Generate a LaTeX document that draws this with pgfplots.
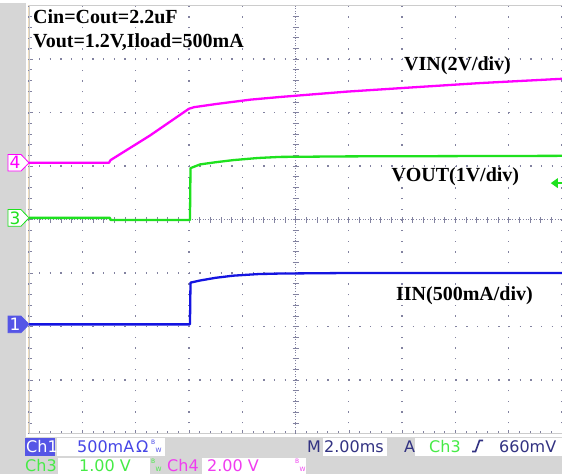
\documentclass[border=0pt]{standalone}
\usepackage{pgfplots}
\pgfplotsset{compat=1.18}
\usepackage{fontspec}
\setmainfont{Liberation Serif}
\newfontfamily\scopefont{DejaVu Sans}

\definecolor{vin}{RGB}{255,0,255}
\definecolor{vout}{RGB}{30,225,30}
\definecolor{iin}{RGB}{20,20,225}
\definecolor{dots}{RGB}{130,130,160}
\definecolor{band}{RGB}{214,214,214}
\definecolor{cream}{RGB}{240,222,190}
\definecolor{navy}{RGB}{50,50,130}
\definecolor{chblue}{RGB}{85,85,230}
\definecolor{txtblue}{RGB}{70,70,230}
\definecolor{txtgreen}{RGB}{70,235,70}
\definecolor{txtmag}{RGB}{240,60,240}

% channel ground marker: y level, fill, outline, text colour, label
\newcommand\chmark[5]{%
  \filldraw[fill=#2, draw=#3, line width=0.8pt]
    (axis cs:0,#1) -- ++(-8pt,8.3pt) -- ++(-13pt,0pt) -- ++(0pt,-16.6pt) -- ++(13pt,0pt) -- cycle;
  \node[text=#4, inner sep=0pt, font=\scopefont\fontsize{17}{17}\selectfont]
    at ([xshift=-14pt]axis cs:0,#1) {#5};
}
% tiny stacked "B" "W" flag: x, baseline y, colour
\newcommand\bw[3]{%
  \node[text=#3, inner sep=0pt, anchor=base west, font=\scopefont\fontsize{6}{6}\selectfont] at (#1,#2+7.5) {B};
  \node[text=#3, inner sep=0pt, anchor=base west, font=\scopefont\fontsize{6}{6}\selectfont] at (#1+4.5,#2) {W};
}

\begin{document}
\begin{tikzpicture}[x=1pt,y=1pt]
\useasboundingbox (-29,-40.5) rectangle (533,433.5);
\fill[white] (-29,-40.5) rectangle (533,433.5);
\fill[band] (-29,-40.5) rectangle (-3,430.5);
\fill[band] (-29,-40.5) rectangle (533,-3);
\draw[cream, line width=0.8pt] (-1,0) -- (-1,428);

% status bar boxes
\fill[chblue] (-4,-4.5) rectangle (26,-22.5);
\fill[white] (28,-4.5) rectangle (136,-22.5);
\fill[white] (294,-4.5) rectangle (358,-22.5);
\fill[white] (386,-4.5) rectangle (533,-22.5);
\fill[white] (29,-24) rectangle (121,-40.5);
\fill[white] (173,-24) rectangle (277,-40.5);

\begin{scope}[every node/.style={inner sep=0pt, anchor=base west, font=\scopefont\fontsize{16}{16}\selectfont}]
  \node[text=white] at (-3,-18.5) {Ch1};
  \node[text=txtblue] at (48,-18.5) {500mA};
  \node[text=txtblue] at (107,-18.5) {Ω};
  \node[text=navy] at (278,-18.5) {M};
  \node[text=navy] at (295,-18.5) {2.00ms};
  \node[text=navy] at (375,-18.5) {A};
  \node[text=txtgreen] at (400,-18.5) {Ch3};
  \node[text=navy] at (470,-18.5) {660mV};
  \node[text=txtgreen] at (-4,-37.5) {Ch3};
  \node[text=txtgreen] at (50,-37.5) {1.00 V};
  \node[text=txtmag] at (138,-37.5) {Ch4};
  \node[text=txtmag] at (178,-37.5) {2.00 V};
\end{scope}
\bw{122}{-18.5}{txtblue}
\bw{122}{-37.5}{txtgreen}
\bw{266}{-37.5}{txtmag}
% rising edge trigger symbol
\draw[navy, line width=1.6pt] (443,-18) -- (446.5,-18) -- (450.5,-7) -- (454,-7);

\begin{axis}[
  at={(0,0)}, anchor=south west,
  scale only axis, width=533pt, height=428pt,
  xmin=0, xmax=10, ymin=0, ymax=8,
  xtick={0,...,10}, ytick={0,...,8},
  minor x tick num=4, minor y tick num=4,
  xticklabels={}, yticklabels={},
  tick pos=left, tick align=inside,
  major tick length=4pt, minor tick length=3pt,
  every tick/.style={dots, line width=0.5pt},
  grid=major,
  major grid style={dots, line width=1.3pt, dash pattern=on 1.3pt off 9.38pt, dash phase=0.65pt},
  axis line style={gray!40, line width=0.6pt},
  clip=false,
]
% centre cross with fine ticks
\draw[dots, line width=0.8pt, dash pattern=on 1pt off 1.67pt] (axis cs:0,4) -- (axis cs:10,4);
\draw[dots, line width=0.8pt, dash pattern=on 1pt off 1.67pt] (axis cs:5,0) -- (axis cs:5,8);
\pgfplotsinvokeforeach{0.2,0.4,...,9.8}{
  \draw[dots, line width=0.6pt] ([yshift=-3pt]axis cs:#1,4) -- ([yshift=3pt]axis cs:#1,4);
}
\pgfplotsinvokeforeach{0.2,0.4,...,7.8}{
  \draw[dots, line width=0.6pt] ([xshift=-3pt]axis cs:5,#1) -- ([xshift=3pt]axis cs:5,#1);
}

% VIN (ch4)
\addplot[vin, line width=2.3pt, line join=round] coordinates {
  (0,5.06) (1.50,5.06) (1.53,5.11) (2.27,5.57) (3.00,6.07) (3.10,6.10)
  (3.52,6.16) (4.15,6.24) (4.71,6.29) (5.96,6.39) (7.20,6.47) (8.46,6.55) (10,6.63)
};
% VOUT (ch3)
\addplot[vout, line width=2.3pt, line join=round] coordinates {
  (0,4.03) (1.52,4.03) (1.53,3.99) (3.02,3.99) (3.03,4.96) (3.21,5.03)
  (3.50,5.07) (3.83,5.11) (4.30,5.15) (4.71,5.17) (6.00,5.18) (10,5.19)
};
% IIN (ch1)
\addplot[iin, line width=2.3pt, line join=round] coordinates {
  (0,2.04) (3.02,2.04) (3.03,2.82) (3.21,2.86) (3.50,2.91) (3.83,2.95)
  (4.30,2.98) (4.71,2.99) (6.00,3.00) (10,3.00)
};

\chmark{5.06}{white}{vin}{vin}{4}
\chmark{4.03}{white}{vout}{vout}{3}
\chmark{2.04}{chblue}{chblue}{white}{1}

% trigger level arrow
\fill[vout] (axis cs:9.79,4.68) -- ++(7pt,5pt) -- ++(0pt,-10pt) -- cycle;
\draw[vout, line width=2pt] ([xshift=6pt]axis cs:9.79,4.68) -- (axis cs:10,4.68);

\begin{scope}[every node/.style={inner sep=0pt, font=\bfseries\fontsize{20}{24}\selectfont}]
  \node[anchor=base west] at (axis cs:0.075,7.667) {Cin=Cout=2.2uF};
  \node[anchor=base west] at (axis cs:0.075,7.224) {Vout=1.2V,Iload=500mA};
  \node[anchor=base] at (axis cs:8.04,6.776) {VIN(2V/div)};
  \node[anchor=base] at (axis cs:8.00,4.707) {VOUT(1V/div)};
  \node[anchor=base] at (axis cs:8.17,2.495) {IIN(500mA/div)};
\end{scope}
\end{axis}
\end{tikzpicture}
\end{document}
